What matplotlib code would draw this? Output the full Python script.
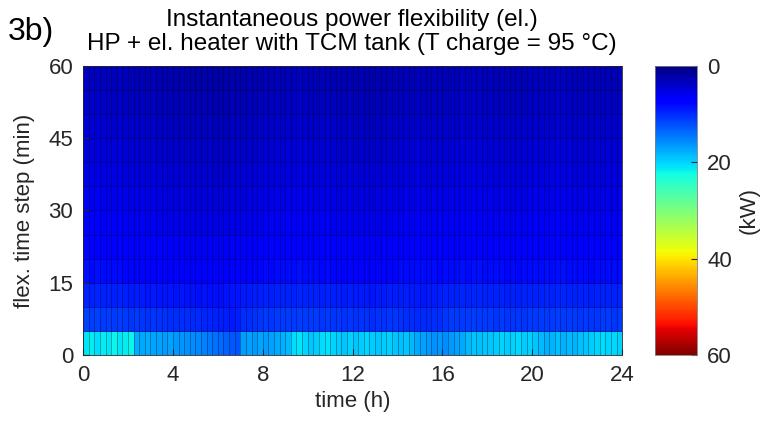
import numpy as np
import matplotlib
matplotlib.use("Agg")
import matplotlib.pyplot as plt

plt.rcParams['font.family'] = ['Liberation Sans', 'DejaVu Sans']

# flexibility (kW) per 15-min time slot, one list per 5-min flex. time step (bottom -> top)
flex_0_5 = [21.0,21.5,20.5,21.5,21.0,21.8,21.0,21.5,21.8,
            17.8,17.5,17.6,17.2,17.0,16.8,16.9,16.5,16.2,16.0,15.8,15.5,15.0,14.6,14.2,13.8,13.2,12.8,12.5,
            16.8,17.0,16.5,17.2,16.8,17.0,17.5,18.0,18.5,
            20.5,21.0,20.0,
            19.0,19.5,20.5,21.0,20.0,19.5,19.0,19.8,19.2,19.5,20.0,19.5,19.0,19.5,19.8,19.2,18.8,19.0,18.5,
            17.5,17.0,16.5,16.0,16.2,15.8,16.5,17.0,17.5,
            18.5,19.0,18.8,19.2,19.0,
            19.5,20.0,19.5,19.8,20.2,19.5,19.8,19.2,
            18.5,18.0,18.2,18.8,18.0,18.5,18.2,18.8,19.0,
            19.5,20.0,20.5,20.0,20.2,19.8]
flex_5_10 = [11.3,11.1,11.4,11.0,11.2,10.9,11.1,10.8, 10.7,10.8,10.6,10.5,10.6,10.4,10.5,10.3,
             10.2,10.3,10.1,10.0,9.9,9.8,9.7,9.5, 9.3,9.2,9.1,9.3,10.1,10.3,10.5,10.6,
             10.8,10.7,10.9,10.8,11.0,10.9,11.1,11.0, 10.9,10.8,10.7,10.8,10.6,10.7,10.5,10.6,
             10.5,10.4,10.5,10.3,10.4,10.5,10.6,10.7, 10.4,10.2,10.1,10.0,9.9,10.0,10.1,10.3,
             10.7,10.8,10.9,11.0,10.9,11.1,11.0,10.9, 10.8,10.7,10.8,10.6,10.7,10.6,10.7,10.8,
             10.9,10.8,11.0,10.9,11.1,11.0,10.9,10.8, 10.7,10.8,10.6,10.7,10.8,10.9,10.7,10.8]
flex_10_15 = [9.6,9.5,9.7,9.4,9.6,9.3,9.5,9.2, 9.1,9.2,9.0,8.9,9.0,8.8,8.9,8.7,
              8.6,8.7,8.5,8.6,8.4,8.5,8.4,8.3, 8.4,8.5,8.8,8.9,9.0,9.1,9.2,9.3,
              9.4,9.3,9.5,9.4,9.6,9.5,9.7,9.6, 9.5,9.4,9.3,9.4,9.2,9.3,9.1,9.2,
              9.1,9.0,9.1,8.9,9.0,9.1,9.2,9.3, 9.3,9.2,9.1,9.0,8.9,9.0,9.1,9.2,
              9.4,9.5,9.6,9.7,9.6,9.8,9.7,9.6, 9.5,9.4,9.5,9.3,9.4,9.3,9.4,9.5,
              9.6,9.5,9.7,9.6,9.8,9.7,9.6,9.5, 9.4,9.5,9.3,9.4,9.5,9.6,9.4,9.5]
flex_15_20 = [8.4,8.2,8.3,8.1,8.2,8.0,8.1,7.9, 7.8,7.9,7.7,7.6,7.7,7.5,7.6,7.4,
              7.3,7.4,7.2,7.3,7.1,7.2,7.1,7.0, 7.1,7.2,7.4,7.5,7.6,7.7,7.8,7.9,
              8.0,7.9,8.1,8.0,8.2,8.1,8.3,8.2, 8.1,8.0,7.9,8.0,7.8,7.9,7.7,7.8,
              7.7,7.6,7.7,7.5,7.6,7.7,7.8,7.9, 8.0,8.1,8.0,8.2,8.1,8.0,8.1,7.9,
              8.0,8.1,8.2,8.3,8.2,8.4,8.3,8.2, 8.1,8.0,8.1,7.9,8.0,7.9,8.0,8.1,
              8.2,8.1,8.3,8.2,8.4,8.3,8.2,8.1, 8.0,8.1,7.9,8.0,8.1,8.2,8.0,8.1]
flex_20_25 = [7.5,7.3,7.4,7.2,7.3,7.1,7.2,7.0, 6.9,7.0,6.8,6.7,6.8,6.6,6.7,6.5,
              6.4,6.5,6.3,6.4,6.2,6.3,6.2,6.1, 6.2,6.1,6.3,6.2,6.4,6.5,6.6,6.7,
              6.9,6.8,7.0,6.9,7.1,7.0,7.2,7.1, 7.0,6.9,6.8,6.9,6.7,6.8,6.6,6.7,
              6.6,6.5,6.6,6.4,6.5,6.6,6.7,6.8, 6.9,7.0,6.9,7.1,7.0,6.9,7.0,6.8,
              6.9,7.0,7.1,7.2,7.1,7.3,7.2,7.1, 7.0,6.9,7.0,6.8,6.9,6.8,6.9,7.0,
              7.1,7.0,7.2,7.1,7.3,7.2,7.1,7.0, 6.9,7.0,6.8,6.9,7.0,7.1,6.9,7.0]
flex_25_30 = [6.8,6.6,6.7,6.5,6.6,6.4,6.5,6.3, 6.2,6.3,6.1,6.0,6.1,5.9,6.0,5.8,
              5.7,5.8,5.6,5.7,5.5,5.6,5.5,5.4, 5.5,5.4,5.6,5.5,5.7,5.8,5.9,6.0,
              6.2,6.1,6.3,6.2,6.4,6.3,6.5,6.4, 6.3,6.2,6.1,6.2,6.0,6.1,5.9,6.0,
              5.9,5.8,5.9,5.7,5.8,5.9,6.0,6.1, 6.2,6.3,6.2,6.4,6.3,6.2,6.3,6.1,
              6.2,6.3,6.4,6.5,6.4,6.6,6.5,6.4, 6.3,6.2,6.3,6.1,6.2,6.1,6.2,6.3,
              6.4,6.3,6.5,6.4,6.6,6.5,6.4,6.3, 6.2,6.3,6.1,6.2,6.3,6.4,6.2,6.3]
flex_30_35 = [6.2,6.0,6.1,5.9,6.0,5.8,5.9,5.7, 5.6,5.7,5.5,5.4,5.5,5.3,5.4,5.2,
              5.1,5.2,5.0,5.1,4.9,5.0,4.9,4.8, 4.9,4.8,5.0,4.9,5.1,5.2,5.3,5.4,
              5.6,5.5,5.7,5.6,5.8,5.7,5.9,5.8, 5.7,5.6,5.5,5.6,5.4,5.5,5.3,5.4,
              5.3,5.2,5.3,5.1,5.2,5.3,5.4,5.5, 5.6,5.7,5.6,5.8,5.7,5.6,5.7,5.5,
              5.6,5.7,5.8,5.9,5.8,6.0,5.9,5.8, 5.7,5.6,5.7,5.5,5.6,5.5,5.6,5.7,
              5.8,5.7,5.9,5.8,6.0,5.9,5.8,5.7, 5.6,5.7,5.5,5.6,5.7,5.8,5.6,5.7]
flex_35_40 = [5.6,5.4,5.5,5.3,5.4,5.2,5.3,5.1, 5.0,5.1,4.9,4.8,4.9,4.7,4.8,4.6,
              4.5,4.6,4.4,4.5,4.3,4.4,4.3,4.2, 4.3,4.2,4.4,4.3,4.5,4.6,4.7,4.8,
              5.0,4.9,5.1,5.0,5.2,5.1,5.3,5.2, 5.1,5.0,4.9,5.0,4.8,4.9,4.7,4.8,
              4.7,4.6,4.7,4.5,4.6,4.7,4.8,4.9, 5.0,5.1,5.0,5.2,5.1,5.0,5.1,4.9,
              5.0,5.1,5.2,5.3,5.2,5.4,5.3,5.2, 5.1,5.0,5.1,4.9,5.0,4.9,5.0,5.1,
              5.2,5.1,5.3,5.2,5.4,5.3,5.2,5.1, 5.0,5.1,4.9,5.0,5.1,5.2,5.0,5.1]
flex_40_45 = [5.1,4.9,5.0,4.8,4.9,4.7,4.8,4.6, 4.5,4.6,4.4,4.3,4.4,4.2,4.3,4.1,
              4.0,4.1,3.9,4.0,3.8,3.9,3.8,3.7, 3.8,3.7,3.9,3.8,4.0,4.1,4.2,4.3,
              4.5,4.4,4.6,4.5,4.7,4.6,4.8,4.7, 4.6,4.5,4.4,4.5,4.3,4.4,4.2,4.3,
              4.2,4.1,4.2,4.0,4.1,4.2,4.3,4.4, 4.5,4.6,4.5,4.7,4.6,4.5,4.6,4.4,
              4.5,4.6,4.7,4.8,4.7,4.9,4.8,4.7, 4.6,4.5,4.6,4.4,4.5,4.4,4.5,4.6,
              4.7,4.6,4.8,4.7,4.9,4.8,4.7,4.6, 4.5,4.6,4.4,4.5,4.6,4.7,4.5,4.6]
flex_45_50 = [4.6,4.4,4.5,4.3,4.4,4.2,4.3,4.1, 4.0,4.1,3.9,3.8,3.9,3.7,3.8,3.6,
              3.5,3.6,3.4,3.5,3.3,3.4,3.3,3.2, 3.3,3.2,3.4,3.3,3.5,3.6,3.7,3.8,
              4.0,3.9,4.1,4.0,4.2,4.1,4.3,4.2, 4.1,4.0,3.9,4.0,3.8,3.9,3.7,3.8,
              3.7,3.6,3.7,3.5,3.6,3.7,3.8,3.9, 4.0,4.1,4.0,4.2,4.1,4.0,4.1,3.9,
              4.0,4.1,4.2,4.3,4.2,4.4,4.3,4.2, 4.1,4.0,4.1,3.9,4.0,3.9,4.0,4.1,
              4.2,4.1,4.3,4.2,4.4,4.3,4.2,4.1, 4.0,4.1,3.9,4.0,4.1,4.2,4.0,4.1]
flex_50_55 = [4.1,3.9,4.0,3.8,3.9,3.7,3.8,3.6, 3.5,3.6,3.4,3.3,3.4,3.2,3.3,3.1,
              3.0,3.1,2.9,3.0,2.8,2.9,2.8,2.7, 2.8,2.7,2.9,2.8,3.0,3.1,3.2,3.3,
              3.5,3.4,3.6,3.5,3.7,3.6,3.8,3.7, 3.6,3.5,3.4,3.5,3.3,3.4,3.2,3.3,
              3.2,3.1,3.2,3.0,3.1,3.2,3.3,3.4, 3.5,3.6,3.5,3.7,3.6,3.5,3.6,3.4,
              3.5,3.6,3.7,3.8,3.7,3.9,3.8,3.7, 3.6,3.5,3.6,3.4,3.5,3.4,3.5,3.6,
              3.7,3.6,3.8,3.7,3.9,3.8,3.7,3.6, 3.5,3.6,3.4,3.5,3.6,3.7,3.5,3.6]
flex_55_60 = [3.6,3.4,3.5,3.3,3.4,3.2,3.3,3.1, 3.0,3.1,2.9,2.8,2.9,2.7,2.8,2.6,
              2.5,2.6,2.4,2.5,2.3,2.4,2.3,2.2, 2.3,2.2,2.4,2.3,2.5,2.6,2.7,2.8,
              3.0,2.9,3.1,3.0,3.2,3.1,3.3,3.2, 3.1,3.0,2.9,3.0,2.8,2.9,2.7,2.8,
              2.7,2.6,2.7,2.5,2.6,2.7,2.8,2.9, 3.0,3.1,3.0,3.2,3.1,3.0,3.1,2.9,
              3.0,3.1,3.2,3.3,3.2,3.4,3.3,3.2, 3.1,3.0,3.1,2.9,3.0,2.9,3.0,3.1,
              3.2,3.1,3.3,3.2,3.4,3.3,3.2,3.1, 3.0,3.1,2.9,3.0,3.1,3.2,3.0,3.1]

flex = np.array([flex_0_5, flex_5_10, flex_10_15, flex_15_20, flex_20_25, flex_25_30,
                 flex_30_35, flex_35_40, flex_40_45, flex_45_50, flex_50_55, flex_55_60])

time_edges = np.arange(0, 24.001, 0.25)
step_edges = np.arange(0, 60.001, 5)

x_ticks = [0, 4, 8, 12, 16, 20, 24]
y_ticks = [0, 15, 30, 45, 60]
cbar_ticks = [0, 20, 40, 60]

txt = '#262626'

fig = plt.figure(figsize=(7.69, 4.33), dpi=100)
ax = fig.add_axes([0.108, 0.18, 0.701, 0.668])
cax = fig.add_axes([0.852, 0.18, 0.055, 0.668])

mesh = ax.pcolormesh(time_edges, step_edges, flex, cmap='jet', vmin=0, vmax=60,
                     edgecolors=(0, 0, 0, 0.3), linewidth=0.4)
ax.set_xlim(0, 24)
ax.set_ylim(0, 60)
ax.set_xticks(x_ticks)
ax.set_yticks(y_ticks)
ax.tick_params(direction='in', labelsize=16, colors=txt, length=4, pad=7,
               top=False, right=False)
for s in ax.spines.values():
    s.set_color(txt)
    s.set_linewidth(0.6)
ax.set_xlabel('time (h)', fontsize=16, color=txt, labelpad=4)
ax.set_ylabel('flex. time step (min)', fontsize=16, color=txt, labelpad=10)

# two-line title, centred over the axes
fig.text(0.458, 1 - 20 / 433, 'Instantaneous power flexibility (el.)',
         fontsize=17.5, color='black', ha='center', va='center')
fig.text(0.458, 1 - 44 / 433, 'HP + el. heater with TCM tank (T charge = 95 °C)',
         fontsize=17.5, color='black', ha='center', va='center')
fig.text(0.010, 1 - 32 / 433, '3b)', fontsize=23, color='black', va='center', ha='left')

cb = fig.colorbar(mesh, cax=cax, ticks=cbar_ticks)
cax.invert_yaxis()
cax.tick_params(direction='in', labelsize=16, colors=txt, length=4, pad=7)
cb.outline.set_edgecolor('#7f7f7f')
cb.outline.set_linewidth(0.6)
cb.set_label('(kW)', fontsize=16, color=txt, labelpad=5)

fig.savefig('out.png', dpi=100)
